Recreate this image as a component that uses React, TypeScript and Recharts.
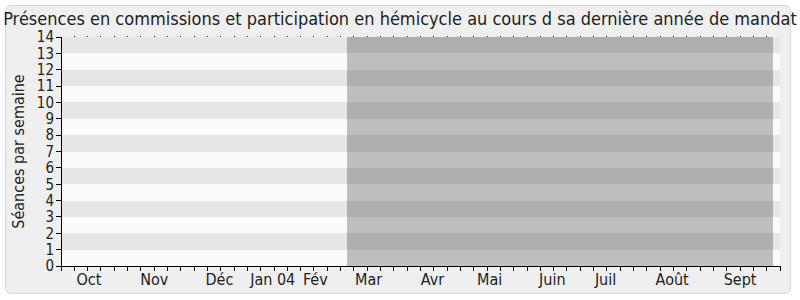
import { ComposedChart, Area, Line, XAxis, YAxis, CartesianGrid } from "recharts";

// semaines (index) de sept. 2003 à sept. 2004
const weeks = [
  0, 1, 2, 3, 4, 5, 6, 7, 8, 9, 10, 11, 12, 13, 14, 15, 16, 17, 18, 19, 20, 21, 22, 23, 24, 25, 26,
  27, 28, 29, 30, 31, 32, 33, 34, 35, 36, 37, 38, 39, 40, 41, 42, 43, 44, 45, 46, 47, 48, 49, 50, 51,
  52, 53, 54,
];
const commissions = [
  0, 0, 0, 0, 0, 0, 0, 0, 0, 0, 0, 0, 0, 0, 0, 0, 0, 0, 0, 0, 0, 0, 0, 0, 0, 0, 0, 0, 0, 0, 0, 0, 0,
  0, 0, 0, 0, 0, 0, 0, 0, 0, 0, 0, 0, 0, 0, 0, 0, 0, 0, 0, 0, 0, 0,
];
const hemicycle = [
  0, 0, 0, 0, 0, 0, 0, 0, 0, 0, 0, 0, 0, 0, 0, 0, 0, 0, 0, 0, 0, 0, 0, 0, 0, 0, 0, 0, 0, 0, 0, 0, 0,
  0, 0, 0, 0, 0, 0, 0, 0, 0, 0, 0, 0, 0, 0, 0, 0, 0, 0, 0, 0, 0, 0,
];
// semaines hors mandat (zone grisée pleine hauteur)
const horsMandat = [
  0, 0, 0, 0, 0, 0, 0, 0, 0, 0, 0, 0, 0, 0, 0, 0, 0, 0, 0, 0, 0, 0, 14, 14, 14, 14, 14, 14, 14, 14,
  14, 14, 14, 14, 14, 14, 14, 14, 14, 14, 14, 14, 14, 14, 14, 14, 14, 14, 14, 14, 14, 14, 14, 14, 0,
];

const monthLabels = ["Oct", "Nov", "Déc", "Jan 04", "Fév", "Mar", "Avr", "Mai", "Juin", "Juil", "Août", "Sept"];
const monthPositions = [2.1, 7.0, 11.9, 15.9, 19.1, 23.1, 27.9, 32.2, 36.9, 40.9, 45.9, 51.0];

const seanceTicks = [0, 1, 2, 3, 4, 5, 6, 7, 8, 9, 10, 11, 12, 13, 14];

const data = weeks.map((w, i) => ({
  week: w,
  commissions: commissions[i],
  hemicycle: hemicycle[i],
  horsMandat: horsMandat[i],
}));

const font = "'DejaVu Sans Condensed', 'DejaVu Sans', sans-serif";
const textColor = "#222";

// petit trait vertical par semaine, sous l'axe
const WeekTick = (props: any) => (
  <line x1={props.x} x2={props.x} y1={props.y} y2={props.y + 5} stroke="#000" />
);
// point au-dessus du cadre
const TopDot = (props: any) => (
  <line x1={props.x} x2={props.x} y1={props.y - 1} y2={props.y} stroke="#333" />
);

export default function App() {
  return (
    <div style={{ position: "absolute", left: 0, top: 0, width: 800, height: 300, background: "#fff", fontFamily: font }}>
      <div
        style={{
          position: "absolute",
          left: 5,
          top: 5,
          width: 784,
          height: 287,
          background: "#efefef",
          border: "1px solid #d8d8d8",
          borderRadius: 6,
        }}
      />
      <div
        style={{
          position: "absolute",
          left: 0,
          top: 8,
          width: 800,
          textAlign: "center",
          fontSize: 18,
          lineHeight: "21px",
          color: textColor,
          whiteSpace: "nowrap",
        }}
      >
        Présences en commissions et participation en hémicycle au cours d sa dernière année de mandat
      </div>
      <div style={{ position: "absolute", left: 0, top: 0, shapeRendering: "crispEdges" }}>
        <ComposedChart width={800} height={300} data={data} margin={{ top: 36, right: 20, bottom: 0, left: 0 }}>
          <CartesianGrid
            vertical={false}
            stroke="none"
            horizontalFill={["#e6e6e6", "#fafafa"]}
            fillOpacity={1}
          />
          <XAxis
            xAxisId="a"
            dataKey="week"
            type="number"
            domain={[0, 54]}
            ticks={weeks}
            interval={0}
            height={6}
            tickSize={0}
            tickMargin={0}
            tickLine={false}
            tick={WeekTick}
            axisLine={{ stroke: "#000" }}
          />
          <XAxis
            xAxisId="b"
            type="number"
            domain={[0, 54]}
            allowDataOverflow
            ticks={monthPositions}
            interval={0}
            height={28}
            tickSize={0}
            tickMargin={2}
            axisLine={false}
            tickLine={false}
            tickFormatter={(v: number) => monthLabels[monthPositions.indexOf(v)] ?? ""}
            tick={{ fontSize: 16, fill: textColor }}
          />
          <XAxis
            xAxisId="top"
            orientation="top"
            type="number"
            domain={[0, 54]}
            allowDataOverflow
            ticks={weeks.slice(1, 54)}
            interval={0}
            height={1}
            tickSize={0}
            tickMargin={0}
            tickLine={false}
            tick={TopDot}
            axisLine={false}
          />
          <YAxis
            type="number"
            domain={[0, 14]}
            ticks={seanceTicks}
            interval={0}
            width={61}
            tickSize={5}
            tickMargin={2}
            axisLine={{ stroke: "#000" }}
            tickLine={{ stroke: "#000" }}
            tick={{ fontSize: 15, fill: textColor }}
            label={{
              value: "Séances par semaine",
              angle: -90,
              position: "insideLeft",
              offset: 18,
              style: { textAnchor: "middle", fontSize: 16, fill: textColor },
            }}
          />
          <Area
            xAxisId="a"
            type="step"
            dataKey="horsMandat"
            fill="#000"
            fillOpacity={0.24}
            stroke="none"
            isAnimationActive={false}
          />
          <Line
            xAxisId="a"
            dataKey="commissions"
            stroke="#8b4513"
            strokeWidth={1}
            dot={false}
            isAnimationActive={false}
          />
          <Line
            xAxisId="a"
            dataKey="hemicycle"
            stroke="#8b0000"
            strokeWidth={1}
            dot={false}
            isAnimationActive={false}
          />
        </ComposedChart>
      </div>
    </div>
  );
}
